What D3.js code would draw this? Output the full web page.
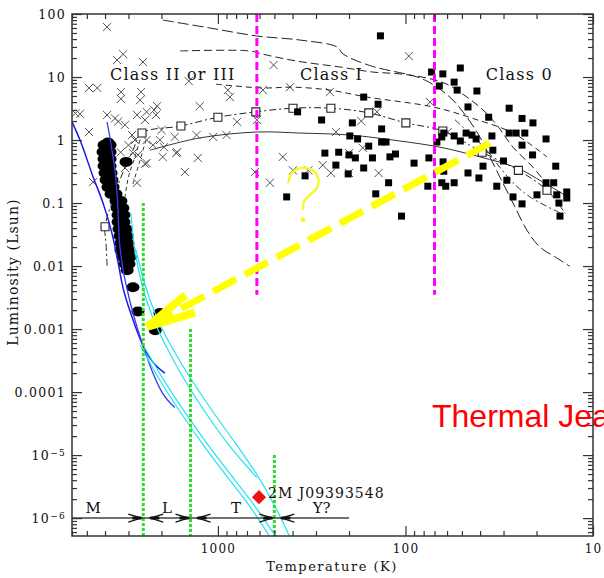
<!DOCTYPE html>
<html>
<head>
<meta charset="utf-8">
<script src="https://cdn.jsdelivr.net/npm/d3@7"></script>
<style>
  body { margin: 0; background: #fff; }
  svg { display: block; }
  text { font-family: "DejaVu Serif", serif; fill: #111; }
</style>
</head>
<body>
<script>
// all points are [temperature (K), luminosity (Lsun)]

// Class 0 / I protostars (filled squares)
const protostars = [
  [136,45],[72.6,12],[63.2,11.2],[51,13.9],[55,8.3],[66,7.2],[53,6.2],[41.6,6.0],[167,4.8],[140,3.7],
  [46.4,3.35],[28,3.2],[376,2.8],[36,2.3],[23.9,2.2],[280,2.08],[192,1.87],[20.9,1.87],[134,1.5],[62.5,1.29],
  [64,1.12],[55,1.16],[51,0.965],[47.5,1.29],[44.2,1.2],[42,1.04],[34.6,1.16],[28,1.29],[25.7,1.29],[23.1,1.29],
  [23.9,0.83],[17.8,1.04],[198,1.16],[180,1.04],[157,0.8],[134,0.93],[127,0.93],[68,0.93],[269,0.62],[227,0.64],
  [200,0.58],[185,0.52],[150,0.52],[121,0.54],[113,0.6],[75,0.52],[90,0.43],[235,0.40],[167,0.36],[63,0.45],
  [21,0.58],[30,0.465],[38.6,0.385],[62.5,0.32],[46.4,0.30],[40.6,0.25],[28.8,0.23],[15.8,0.385],[343,0.27],[202,0.29],
  [123,0.21],[76,0.185],[64,0.21],[61,0.185],[55,0.21],[32.6,0.185],[17.8,0.21],[16.2,0.21],[19.9,0.135],[144,0.14],
  [26.7,0.125],[23.9,0.097],[15.6,0.135],[13.8,0.15],[13.8,0.12],[15.2,0.10],[15,0.062],[105,0.062],[430,0.125],[34.2,0.69]
];

// Class II / III young stars (crosses)
const youngStars = [
  [3900,62],[3200,23],[3450,18.6],[2510,17.3],[4870,6.7],[4400,6.7],[3290,5.8],[2570,5.8],[3290,4.5],[2600,4.3],
  [2110,3.45],[1250,3.45],[1430,8.6],[885,6.2],[863,4.8],[505,15.5],[576,6.2],[413,6.9],[5440,2.6],[4870,1.34],
  [3900,2.5],[3540,2.2],[3130,1.74],[2700,2.5],[2400,2.8],[2190,3.0],[2870,1.2],[2400,1.0],[2040,1.0],[1700,1.12],
  [1300,1.2],[1060,1.12],[900,1.2],[790,1.94],[1940,0.77],[1650,0.64],[1970,0.54],[1280,0.52],[2400,0.43],[1500,0.31],
  [2840,0.62],[3130,0.36],[2700,0.21],[4630,0.215],[635,0.31],[451,0.54],[528,0.21],[620,2.08],[96,21.5],[253,5.8],
  [74,4.0],[142,2.8],[172,2.0],[235,1.34],[200,0.62],[276,0.40],[250,0.30],[200,0.30],[139,0.30],[59.5,1.34],
  [398,0.33],[330,0.33],[169,0.75],[5750,2.65],[3400,1.97],[2140,2.5],[2450,2.08],[2450,0.42],[3300,0.64],[3000,0.83],
  [2670,0.58],[2770,1.0],[2220,0.83],[2000,1.44],[1670,0.62]
];

// low mass stars (filled blobs)
const lowMassStars = [
  [3856,0.91],[4050,0.833],[3760,0.833],[4100,0.645],[3760,0.645],[4050,0.499],[3760,0.499],[4050,0.387],[3760,0.387],
  [4000,0.299],[3715,0.299],[3950,0.232],[3670,0.232],[3860,0.179],[3625,0.179],[3715,0.139],[3495,0.139],
  [3495,0.108],[3290,0.108],[3450,0.0833],[3210,0.0833],[3410,0.0645],[3170,0.0645],[3410,0.0499],[3170,0.0499],
  [3370,0.0387],[3090,0.0387],[3330,0.0299],[3050,0.0299],[3290,0.0232],[3020,0.0232],[3290,0.0179],[2980,0.0179],
  [3210,0.0139],[2940,0.0139],[3130,0.0108],[2980,0.0108],[3050,0.0086],[3090,0.45],
  [2840,0.0046],[2670,0.0019],[2160,0.00096],[2040,0.0018]
];

// evolutionary tracks
const birthline = [
  [3900,0.0101],[3950,0.022],[4000,0.042],[3650,0.11],[3250,0.28],[2840,0.69],[2540,1.29],[1575,1.67],[1000,2.3],[628,2.8],
  [398,3.2],[250,3.2],[157,2.7],[99.5,1.87],[63.2,1.39],[39,0.64],[25,0.33],[17.6,0.16],[14.1,0.069]
];
const birthlineMarks = [
  [4000,0.042],[2540,1.29],[1575,1.67],[1000,2.3],[628,2.8],[398,3.2],[250,3.2],[157,2.7],[99.5,1.87],[63.2,1.39],
  [39,0.64],[25,0.33],[17.6,0.16]
];
const trackSolid = [[2300,0.69],[1250,1.08],[620,1.34],[365,1.29],[198,1.2],[107,0.965],[65.5,0.77],[40.1,0.54],[25.4,0.36],[18.5,0.215],[14.2,0.135]];
const trackDash1 = [
  [1965,80],[1105,60],[620,44.8],[365,38.6],[232,30],[215,23.2],[155,15.2],[83.7,9.65],[67.9,6.9],[55.8,4.3],
  [47,2.3],[40.1,1.12],[35.5,0.54],[31.4,0.26],[26.7,0.10],[22.5,0.037],[19.2,0.020],[16,0.0141],[13.3,0.0099]
];
const trackDash2 = [
  [1590,25.9],[675,25.9],[582,23.2],[380,17.9],[223,14.4],[150,12],[107,11.2],[76.9,9.65],[60.1,7.7],[47,4.8],
  [38.6,3.0],[32.6,1.74],[26.7,0.77],[20.9,0.37],[17.4,0.19]
];
const trackDash3 = [[1025,7.7],[576,6.7],[398,6.9],[253,6.2],[160,4.8],[71.3,3.35],[43.7,2.2],[26.7,1.29],[17.6,0.54]];
const trackDash4 = [[54.5,2.1],[36.9,0.69],[31.4,0.37],[26.7,0.21],[21.7,0.125],[15,0.07]];
const trackShort1 = [[2540,1.29],[2770,0.54],[3000,0.26],[3130,0.125]];
const trackShort2 = [[2420,1.0],[2600,0.48],[2870,0.18]];

// cooling curves
const coolBlue1 = [[6000,1.94],[5440,1.0],[4630,0.26],[4100,0.10],[3625,0.028],[3410,0.0116],[3250,0.0054],[2870,0.00155],[2450,0.00047],[1920,0.0002]];
const coolBlue2 = [[3900,1.94],[3675,0.69],[3500,0.23],[3410,0.077],[3370,0.031],[3290,0.015],[3015,0.0037],[2700,0.00108],[2360,0.00032],[1990,0.0001],[1700,5.7e-5]];
const coolCyan1 = [[2910,0.069],[2800,0.018],[2570,0.0054],[2275,0.00167],[1916,0.00056],[1536,1.67e-4],[1172,4.8e-5],[884,1.44e-5],[620,4.4e-6]];
const coolCyan2 = [[2735,0.018],[2480,0.0054],[2166,0.00167],[1800,0.00056],[1409,1.67e-4],[1063,4.8e-5],[792,1.44e-5],[612,4.8e-6],[497,1.6e-6],[413,5.0e-7]];
const coolCyan3 = [[2600,0.00056],[2087,1.67e-4],[1590,4.8e-5],[1201,1.44e-5],[884,4.3e-6],[675,1.6e-6],[528,5.0e-7]];
const coolCyan4 = [[2420,0.00047],[1916,1.39e-4],[1462,4.3e-5],[1103,1.29e-5],[811,4.0e-6],[620,1.44e-6],[490,5.0e-7]];

// spectral classes
const spectralBounds = [2500, 1400, 500];
const spectralTops = [0.1, 0.001, 1e-5];
const spectralLabels = ['M', 'L', 'T', 'Y?'];
const spectralLabelT = [4630, 1870, 800, 280];
const spectralLineL = 1e-6;
const spectralLineEnd = [6000, 200];

// YSO classes
const classBounds = [620, 70];
const classBoundBottom = 0.0035;
const classLabels = ['Class II or III', 'Class I', 'Class 0'];
const classLabelT = [3760, 365, 37.3];
const classLabelL = 8.96;

const arrowFrom = [35.5, 0.895];
const arrowTo = [2390, 0.00108];
const questionAt = [352, 0.135];
const dwarfPoint = [604, 2.15e-6];
const dwarfName = '2M J09393548';

const yMajorTicks = [100, 10, 1, 0.1, 0.01, 0.001, 0.0001, 1e-5, 1e-6];
const xMajorTicks = [1000, 100, 10];

const W = 604, H = 578;
const x = d3.scaleLog().domain([6000, 10]).range([72, 593]);
const y = d3.scaleLog().domain([5.2e-7, 100]).range([536, 14]);

const svg = d3.select('body').append('svg').attr('width', W).attr('height', H);
svg.append('defs').append('clipPath').attr('id', 'clip')
  .append('rect').attr('x', 72).attr('y', 14).attr('width', 521).attr('height', 522);
const plot = svg.append('g').attr('clip-path', 'url(#clip)');

const line = d3.line().x(d => x(d[0])).y(d => y(d[1])).curve(d3.curveCatmullRom);
const smooth = d3.line().x(d => x(d[0])).y(d => y(d[1])).curve(d3.curveMonotoneX);
const soft = d3.line().x(d => x(d[0])).y(d => y(d[1])).curve(d3.curveBasis);

function drawLine(data, color, width, dash, gen) {
  plot.append('path').datum(data)
    .attr('d', gen || line)
    .attr('fill', 'none')
    .attr('stroke', color)
    .attr('stroke-width', width)
    .attr('stroke-dasharray', dash || null);
}

// crosses
plot.append('g').selectAll('path').data(youngStars).join('path')
  .attr('transform', d => `translate(${x(d[0])},${y(d[1])})`)
  .attr('d', d3.symbol(d3.symbolTimes, 45))
  .attr('fill', 'none').attr('stroke', '#555').attr('stroke-width', 1);

// tracks
drawLine(trackDash1, '#222', 1, '11,4');
drawLine(trackDash2, '#222', 1, '8,4');
drawLine(trackDash3, '#222', 1, '6,4');
drawLine(trackDash4, '#333', 1, '7,3,2,3');
drawLine(trackSolid, '#333', 1);
drawLine(birthline, '#222', 1, '7,3,2,3');
drawLine(trackShort1, '#333', 1, '4,3');
drawLine(trackShort2, '#333', 1, '4,3');

plot.append('g').selectAll('path').data(birthlineMarks).join('path')
  .attr('transform', d => `translate(${x(d[0])},${y(d[1])})`)
  .attr('d', d3.symbol(d3.symbolSquare, 64))
  .attr('fill', '#fff').attr('stroke', '#222').attr('stroke-width', 1.1);

// protostars
plot.append('g').selectAll('path').data(protostars).join('path')
  .attr('transform', d => `translate(${x(d[0])},${y(d[1])})`)
  .attr('d', d3.symbol(d3.symbolSquare, 49))
  .attr('fill', '#000');

// low mass stars
plot.append('g').selectAll('ellipse').data(lowMassStars).join('ellipse')
  .attr('cx', d => x(d[0])).attr('cy', d => y(d[1]))
  .attr('rx', 6.5).attr('ry', 5)
  .attr('fill', '#000');

// cooling curves
drawLine(coolBlue1, '#1a1ae8', 1.5, null, smooth);
drawLine(coolBlue2, '#3b3bf0', 1.3, null, smooth);
[coolCyan1, coolCyan2, coolCyan3, coolCyan4].forEach(c => drawLine(c, '#22e2f0', 1.2, null, soft));

// spectral boundaries
plot.append('g').selectAll('line').data(spectralBounds).join('line')
  .attr('x1', d => x(d)).attr('x2', d => x(d))
  .attr('y1', (d, i) => y(spectralTops[i])).attr('y2', y.range()[0])
  .attr('stroke', '#2be02b').attr('stroke-width', 3).attr('stroke-dasharray', '3,2');

// YSO class boundaries
plot.append('g').selectAll('line').data(classBounds).join('line')
  .attr('x1', d => x(d)).attr('x2', d => x(d))
  .attr('y1', y.range()[1]).attr('y2', y(classBoundBottom))
  .attr('stroke', '#ff00ff').attr('stroke-width', 3).attr('stroke-dasharray', '8,4');

// spectral class bar
const barY = y(spectralLineL);
plot.append('line')
  .attr('x1', x(spectralLineEnd[0])).attr('x2', x(spectralLineEnd[1]))
  .attr('y1', barY).attr('y2', barY)
  .attr('stroke', '#444').attr('stroke-width', 1.5);
const heads = plot.append('g').attr('fill', 'none').attr('stroke', '#111');
spectralBounds.forEach(b => {
  const px = x(b);
  heads.append('path').attr('stroke-width', 1.3)
    .attr('d', `M${px - 15},${barY - 4}L${px - 2},${barY}L${px - 15},${barY + 4}`);
  heads.append('path').attr('stroke-width', 1.3)
    .attr('d', `M${px + 20},${barY - 4}L${px + 7},${barY}L${px + 20},${barY + 4}`);
  heads.append('path').attr('stroke-width', 3)
    .attr('d', `M${px - 11},${barY}L${px - 2},${barY}M${px + 7},${barY}L${px + 16},${barY}`);
});
svg.append('g').selectAll('text').data(spectralLabels).join('text')
  .attr('x', (d, i) => x(spectralLabelT[i])).attr('y', 513)
  .attr('text-anchor', 'middle').attr('font-size', 15)
  .text(d => d);

// yellow arrow
const p0 = [x(arrowFrom[0]), y(arrowFrom[1])];
const p1 = [x(arrowTo[0]), y(arrowTo[1])];
const yellow = plot.append('g').attr('stroke', '#ffff00').attr('fill', 'none');
yellow.append('line')
  .attr('x1', p0[0]).attr('y1', p0[1]).attr('x2', p1[0]).attr('y2', p1[1])
  .attr('stroke-width', 7).attr('stroke-dasharray', '26,10');
const ang = Math.atan2(p0[1] - p1[1], p0[0] - p1[0]);
[-0.2, 0.2].forEach(a => {
  yellow.append('line')
    .attr('x1', p1[0]).attr('y1', p1[1])
    .attr('x2', p1[0] + 50 * Math.cos(ang + a)).attr('y2', p1[1] + 50 * Math.sin(ang + a))
    .attr('stroke-width', 8);
});

// question mark
const q = [x(questionAt[0]), y(questionAt[1])];
const qShape = [[-14.7,-11.7],[-11.3,-21.7],[-3,-26.7],[8.7,-25],[15.3,-16.7],[13.7,-6.7],[5.3,1.7],[1,6.7],[0.3,15]];
plot.append('path')
  .attr('d', d3.line().curve(d3.curveCatmullRom)(qShape.map(d => [q[0] + d[0], q[1] + d[1]])))
  .attr('fill', 'none').attr('stroke', '#f8f830').attr('stroke-width', 2.5);
plot.append('circle').attr('cx', q[0]).attr('cy', q[1] + 25).attr('r', 2.5).attr('fill', '#f8f830');

// brown dwarf
plot.append('path')
  .attr('transform', `translate(${x(dwarfPoint[0])},${y(dwarfPoint[1])}) rotate(45)`)
  .attr('d', d3.symbol(d3.symbolSquare, 100))
  .attr('fill', '#ee1111');
svg.append('text')
  .attr('x', x(dwarfPoint[0]) + 9).attr('y', y(dwarfPoint[1]) + 1)
  .attr('font-size', 14).attr('letter-spacing', 1)
  .text(dwarfName);

// class labels
svg.append('g').selectAll('text').data(classLabels).join('text')
  .attr('x', (d, i) => x(classLabelT[i])).attr('y', y(classLabelL))
  .attr('font-size', 16).attr('letter-spacing', 1.2)
  .text(d => d);

// axes
const isMajor = v => Math.abs(Math.log10(v) - Math.round(Math.log10(v))) < 1e-6;
const xMinor = x.ticks().filter(v => !isMajor(v));
const yMinor = y.ticks().filter(v => !isMajor(v));

function tidy(g) {
  g.select('.domain').remove();
  g.selectAll('line').attr('stroke', '#333').attr('stroke-width', 1.2);
}

svg.append('g').attr('transform', 'translate(0,536)')
  .call(d3.axisBottom(x).tickValues(xMinor).tickSize(-5).tickFormat('')).call(tidy);
svg.append('g').attr('transform', 'translate(0,536)')
  .call(d3.axisBottom(x).tickValues(xMajorTicks).tickSize(-10).tickPadding(8).tickFormat(d3.format('d')))
  .call(tidy)
  .selectAll('text').attr('font-size', 12).attr('letter-spacing', 1.2);
svg.append('g').attr('transform', 'translate(0,14)')
  .call(d3.axisTop(x).tickValues(xMinor).tickSize(-5).tickFormat('')).call(tidy);
svg.append('g').attr('transform', 'translate(0,14)')
  .call(d3.axisTop(x).tickValues(xMajorTicks).tickSize(-10).tickFormat('')).call(tidy);
svg.append('g').attr('transform', 'translate(72,0)')
  .call(d3.axisLeft(y).tickValues(yMinor).tickSize(-5).tickFormat('')).call(tidy);
svg.append('g').attr('transform', 'translate(72,0)')
  .call(d3.axisLeft(y).tickValues(yMajorTicks).tickSize(-10).tickFormat('')).call(tidy);
svg.append('g').attr('transform', 'translate(593,0)')
  .call(d3.axisRight(y).tickValues(yMinor).tickSize(-5).tickFormat('')).call(tidy);
svg.append('g').attr('transform', 'translate(593,0)')
  .call(d3.axisRight(y).tickValues(yMajorTicks).tickSize(-10).tickFormat('')).call(tidy);

svg.append('rect').attr('x', 72).attr('y', 14).attr('width', 521).attr('height', 522)
  .attr('fill', 'none').attr('stroke', '#333').attr('stroke-width', 1.5);

svg.append('g').selectAll('text').data(yMajorTicks).join('text')
  .attr('x', 66).attr('y', d => y(d)).attr('dy', '0.36em')
  .attr('text-anchor', 'end').attr('font-size', 12.5).attr('letter-spacing', 1.3)
  .each(function (d) {
    const t = d3.select(this);
    if (d < 1e-4) {
      t.text('10');
      t.append('tspan').attr('dy', '-0.45em').attr('font-size', 9).text('\u2212' + Math.round(-Math.log10(d)));
    } else {
      t.text(String(d));
    }
  });

svg.append('text').attr('x', 332).attr('y', 571)
  .attr('text-anchor', 'middle').attr('font-size', 13).attr('letter-spacing', 1.5)
  .text('Temperature (K)');
svg.append('text').attr('transform', 'translate(18,272) rotate(-90)')
  .attr('text-anchor', 'middle').attr('font-size', 14).attr('letter-spacing', 1.1)
  .text('Luminosity (Lsun)');

svg.append('text').attr('x', 432).attr('y', 427)
  .style('font-family', '"Liberation Sans", Arial, sans-serif').style('fill', '#ff0000')
  .attr('font-size', 32)
  .text('Thermal Jeans');
</script>
</body>
</html>
